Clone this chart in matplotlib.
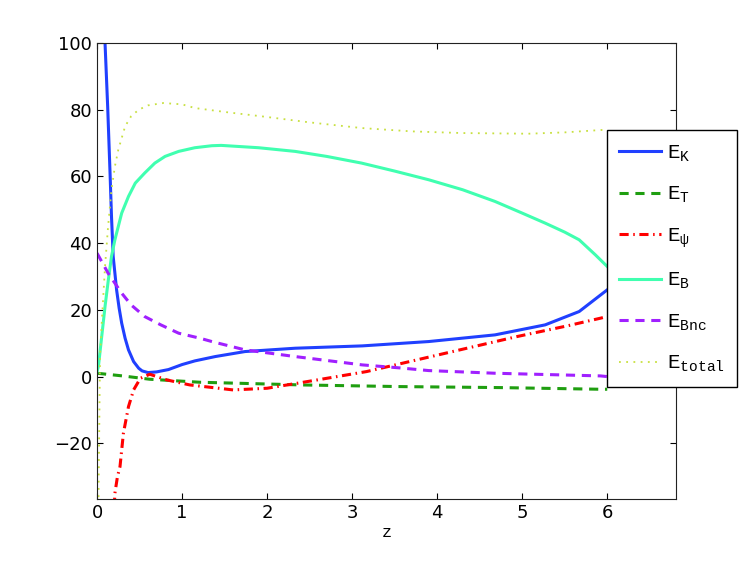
import matplotlib
matplotlib.use("Agg")
import matplotlib.pyplot as plt

plt.rcParams["mathtext.fontset"] = "custom"
plt.rcParams["mathtext.rm"] = "Liberation Mono"
plt.rcParams["mathtext.it"] = "Liberation Mono"
plt.rcParams["mathtext.tt"] = "Liberation Mono"

# Energy curves
z_K = [0.07, 0.094, 0.125, 0.153, 0.17, 0.19, 0.23, 0.26, 0.29, 0.33, 0.37, 0.43,
       0.49, 0.53, 0.60, 0.70, 0.84, 1.0, 1.15, 1.39, 1.74, 2.33, 3.12, 3.9,
       4.68, 5.27, 5.67, 6.0]
E_K = [112, 100, 81, 61, 48, 36, 26, 20.5, 16, 11.5, 8, 4.5,
       2.5, 1.7, 1.2, 1.4, 2.1, 3.6, 4.7, 6, 7.5, 8.5, 9.2, 10.5,
       12.5, 15.5, 19.5, 26]

z_T = [0.0, 0.3, 0.62, 1.21, 2.11, 2.39, 3.56, 4.74, 5.92, 6.0]
E_T = [1.0, 0.2, -0.8, -1.7, -2.3, -2.5, -3.0, -3.3, -3.8, -3.8]

z_psi = [0.19, 0.21, 0.24, 0.27, 0.31, 0.37, 0.43, 0.51, 0.62, 0.82, 1.09, 1.6,
         2.0, 2.59, 3.17, 3.76, 4.35, 4.94, 5.53, 5.92, 6.0]
E_psi = [-45, -35, -30, -27, -17, -9, -4, -0.5, 0.7, -1, -2.5, -4,
         -3.5, -1, 1.5, 5, 8.5, 12, 15.2, 17.5, 18]

z_B = [0.0, 0.016, 0.055, 0.094, 0.133, 0.17, 0.21, 0.29, 0.37, 0.45, 0.56, 0.68,
       0.80, 0.96, 1.15, 1.35, 1.46, 1.9, 2.33, 2.7, 3.11, 3.5, 3.9, 4.3,
       4.68, 5.0, 5.27, 5.5, 5.67, 5.86, 6.0]
E_B = [1.5, 3, 12, 21, 29, 36, 41, 49, 54, 58, 61, 64,
       66, 67.5, 68.6, 69.2, 69.3, 68.6, 67.5, 66, 64, 61.6, 59, 56,
       52.5, 49, 46, 43.3, 41, 36.5, 33]

z_Bnc = [0.0, 0.13, 0.29, 0.4, 0.56, 0.75, 0.96, 1.21, 1.35, 1.74, 2.33, 3.12,
         3.56, 3.9, 4.68, 5.3, 5.92, 6.0]
E_Bnc = [37, 31, 25, 21.5, 18, 15.5, 13, 11.5, 10.5, 8, 6, 3.5,
         2.6, 1.8, 1, 0.6, 0.2, 0]

z_tot = [0.01, 0.02, 0.035, 0.055, 0.094, 0.13, 0.17, 0.21, 0.25, 0.33, 0.4, 0.49,
         0.6, 0.78, 1.0, 1.15, 1.54, 1.94, 2.5, 3.11, 3.7, 4.29, 5.07, 5.5,
         5.98, 6.0]
E_tot = [-60, -30, 6, 16, 33, 45, 56, 63, 68, 75, 78, 80,
         81.3, 82, 81.6, 80.5, 79.2, 78, 76.2, 74.5, 73.5, 73, 72.8, 73.2,
         74, 74]

fig = plt.figure(figsize=(7.47, 5.61), dpi=100)
ax = fig.add_axes([0.1299, 0.1105, 0.7752, 0.8129])

ax.plot(z_K, E_K, color="#2040ff", lw=2.2, label=r"$\mathtt{E}_{\mathtt{K}}$")
ax.plot(z_T, E_T, color="#1f9e10", lw=2.2, ls=(0, (3, 2.2)), label=r"$\mathtt{E}_{\mathtt{T}}$")
ax.plot(z_psi, E_psi, color="#ff0000", lw=2.2, ls=(0, (3, 1.5, 0.5, 1.5)),
        label=r"$\mathtt{E}_{\mathtt{ψ}}$")
ax.plot(z_B, E_B, color="#40ffb0", lw=2.2, label=r"$\mathtt{E}_{\mathtt{B}}$")
ax.plot(z_Bnc, E_Bnc, color="#a020ff", lw=2.2, ls=(0, (3, 2.2)), label=r"$\mathtt{E}_{\mathtt{Bnc}}$")
ax.plot(z_tot, E_tot, color="#c8e040", lw=1.3, ls=(0, (1, 3)), label=r"$\mathtt{E}_{\mathtt{total}}$")

ax.set_xlim(0, 6.81)
ax.set_ylim(-36.7, 100)
ax.set_xticks([0, 1, 2, 3, 4, 5, 6])
ax.set_yticks([-20, 0, 20, 40, 60, 80, 100])
ax.tick_params(direction="in", top=True, right=True, labelsize=13, length=4)
for s in ax.spines.values():
    s.set_color("#222222")
ax.set_xlabel("z", fontsize=12, family="Liberation Mono", labelpad=2)

leg = fig.legend(loc="upper left", bbox_to_anchor=(0.812, 0.768), borderaxespad=0,
                 prop={"size": 15}, handlelength=2.0, handletextpad=0.3,
                 labelspacing=0.97, borderpad=0.6, fancybox=False,
                 edgecolor="black", framealpha=1)
leg.get_frame().set_linewidth(1.0)

fig.savefig("out.png", dpi=100)
